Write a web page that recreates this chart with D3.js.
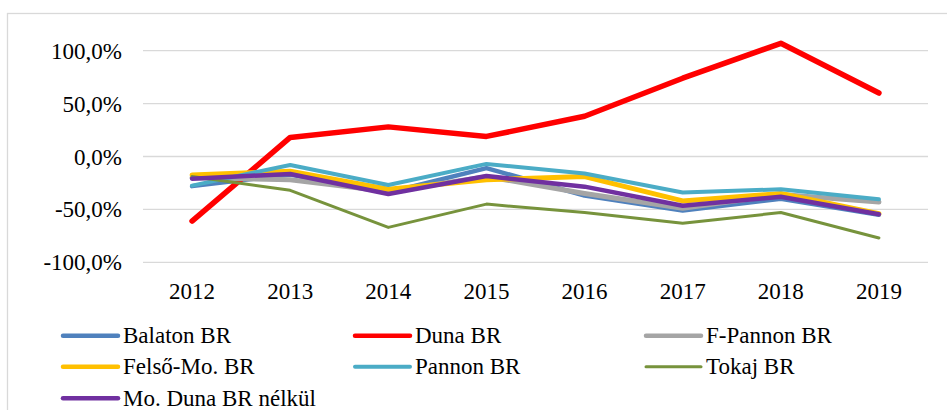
<!DOCTYPE html>
<html>
<head>
<meta charset="utf-8">
<script src="https://cdn.jsdelivr.net/npm/d3@7"></script>
</head>
<body style="margin:0">
<script>
const width = 947;
const height = 410;
const fontName = "'Liberation Serif', 'Times New Roman', serif";
const years = ["2012", "2013", "2014", "2015", "2016", "2017", "2018", "2019"];
const yTicks = [-100, -50, 0, 50, 100];

// values in percent
const balaton = [-28, -17, -34, -11, -37, -51, -40, -55];
const duna = [-61, 18, 28, 19, 38, 74, 107, 60];
const fPannon = [-20, -22, -33, -19, -35, -49, -36, -43];
const felsoMo = [-17.5, -14, -31, -22, -19, -42, -35, -54];
const pannon = [-27.5, -8, -27, -7, -16, -34, -31, -40.5];
const tokaj = [-19, -32, -67, -45, -53, -63, -53, -77];
const moNelkul = [-21, -16.5, -35.5, -18.5, -28.5, -46.5, -38, -54.5];

const seriesNames = ["Balaton BR", "Duna BR", "F-Pannon BR", "Felső-Mo. BR", "Pannon BR", "Tokaj BR", "Mo. Duna BR nélkül"];
const seriesValues = [balaton, duna, fPannon, felsoMo, pannon, tokaj, moNelkul];
const seriesColors = ["#4F81BD", "#FF0000", "#A5A5A5", "#FFC000", "#4BACC6", "#77933C", "#7030A0"];
const lineWidths = [4.5, 5.5, 5, 5, 4, 3, 4.5];

const plot = { left: 143, right: 928, top: 50.7, bottom: 262.3 };

const x = d3.scaleBand()
  .domain(years)
  .range([plot.left, plot.right]);
const y = d3.scaleLinear()
  .domain([-100, 100])
  .range([plot.bottom, plot.top]);

const svg = d3.select("body")
  .append("svg")
  .attr("width", width)
  .attr("height", height)
  .style("font-family", fontName, "important");

// chart area border
svg.append("rect")
  .attr("x", 7.5)
  .attr("y", 13.5)
  .attr("width", 960)
  .attr("height", 420)
  .attr("fill", "#fff")
  .attr("stroke", "#d9d9d9")
  .attr("stroke-width", 1.3);

// gridlines
svg.selectAll("line.grid")
  .data(yTicks)
  .enter()
  .append("line")
  .attr("class", "grid")
  .attr("x1", plot.left)
  .attr("x2", plot.right)
  .attr("y1", d => y(d))
  .attr("y2", d => y(d))
  .attr("stroke", "#d9d9d9")
  .attr("stroke-width", 1.3);

const fmt = d => d3.format(".1f")(d).replace(".", ",").replace("−", "-") + "%";

svg.selectAll("text.ytick")
  .data(yTicks)
  .enter()
  .append("text")
  .attr("class", "ytick")
  .attr("x", 122)
  .attr("y", d => y(d) + 8)
  .attr("text-anchor", "end")
  .style("font-family", fontName, "important")
  .style("font-size", "23px")
  .text(d => fmt(d));

svg.selectAll("text.xtick")
  .data(years)
  .enter()
  .append("text")
  .attr("class", "xtick")
  .attr("x", d => x(d) + x.bandwidth() / 2)
  .attr("y", 299)
  .attr("text-anchor", "middle")
  .style("font-family", fontName, "important")
  .style("font-size", "23px")
  .text(d => d);

const line = d3.line()
  .x((d, i) => x(years[i]) + x.bandwidth() / 2)
  .y(d => y(d));

svg.selectAll("path.series")
  .data(seriesValues)
  .enter()
  .append("path")
  .attr("class", "series")
  .attr("d", d => line(d))
  .attr("fill", "none")
  .attr("stroke", (d, i) => seriesColors[i])
  .attr("stroke-width", (d, i) => lineWidths[i])
  .attr("stroke-linecap", "round")
  .attr("stroke-linejoin", "round");

// legend: 3 columns
const legendCols = [63, 355, 646];
const legendRows = [335.7, 366.7, 398.3];
const legend = svg.selectAll("g.legend")
  .data(seriesNames)
  .enter()
  .append("g")
  .attr("class", "legend")
  .attr("transform", (d, i) => `translate(${legendCols[i % 3]},${legendRows[Math.floor(i / 3)]})`);

legend.append("line")
  .attr("x1", 0)
  .attr("x2", 55)
  .attr("stroke", (d, i) => seriesColors[i])
  .attr("stroke-width", (d, i) => Math.min(lineWidths[i], 4.5))
  .attr("stroke-linecap", "round");

legend.append("text")
  .attr("x", 60)
  .attr("y", 7.6)
  .style("font-family", fontName, "important")
  .style("font-size", "23px")
  .text(d => d);
</script>
</body>
</html>
